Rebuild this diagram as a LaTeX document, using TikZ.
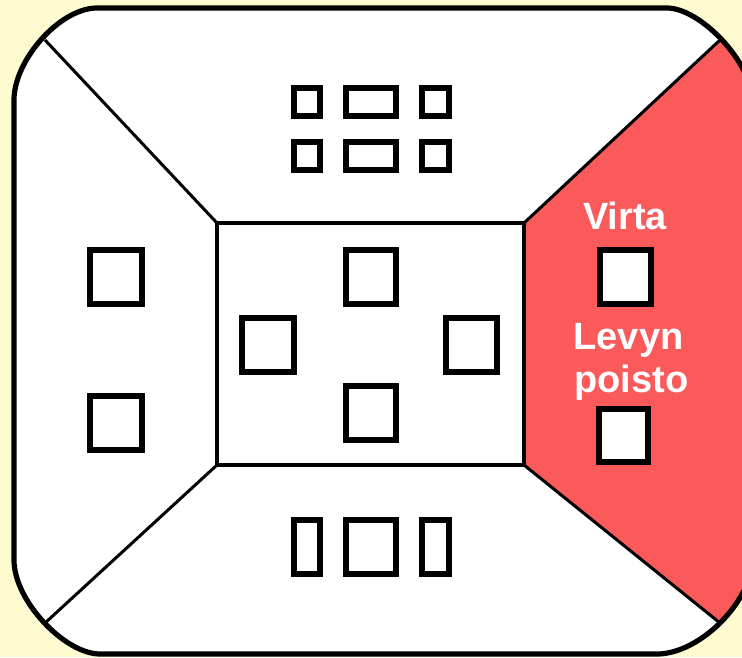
\documentclass[tikz,border=0pt]{standalone}
\usepackage{fontspec}
\setmainfont{Liberation Sans}
\definecolor{bgy}{RGB}{255,251,208}
\definecolor{redw}{RGB}{250,90,90}
\tikzset{
  x=1pt,y=-1pt,
  box/.style={draw=black,fill=white,line width=5.6pt,inner sep=0pt,outer sep=0pt,anchor=north west},
  midbox/.style={draw=black,fill=white,line width=3.6pt,inner sep=0pt,outer sep=0pt,anchor=north west},
  rule/.style={draw=black,line width=3pt},
  lab/.style={text=white,font=\fontsize{38}{38}\selectfont\bfseries,inner sep=0pt,anchor=base}
}
\newcommand{\outline}{(97,8) -- (667,8) .. controls (700,8) and (752,62) .. (752,100) -- (752,560)
  .. controls (752,601) and (700,654) .. (657,654) -- (100,654)
  .. controls (65,654) and (14,601) .. (14,560) -- (14,100)
  .. controls (14,60) and (60,8) .. (97,8) -- cycle}
\newcommand{\bx}[5]{\node[box,minimum width=#4pt-5.6pt,minimum height=#5pt-5.6pt] (#1) at (#2+2.8,#3+2.8) {};}
\begin{document}
\begin{tikzpicture}
\useasboundingbox (0,0) rectangle (742,657);
\fill[bgy] (0,0) rectangle (742,657);
\fill[white] \outline;
\begin{scope}
\clip \outline;
\fill[redw] (524,223) -- (720,40) -- (760,40) -- (760,623) -- (720,623) -- (524,465) -- cycle;
\end{scope}
\draw[black,line width=5.2pt] \outline;
\coordinate (tl) at (45,40);
\coordinate (tr) at (720,40);
\coordinate (bl) at (45,623);
\coordinate (br) at (720,623);
\node[midbox,minimum width=307pt,minimum height=242pt] (mid) at (217,223) {};
\draw[rule] (mid.north west) -- (tl);
\draw[rule] (mid.north east) -- (tr);
\draw[rule] (mid.south west) -- (bl);
\draw[rule] (mid.south east) -- (br);
\bx{ta}{291}{85}{32}{34}
\bx{tb}{343}{85}{56}{34}
\bx{tc}{419}{85}{33}{34}
\bx{tdd}{291}{139}{32}{34}
\bx{te}{343}{139}{56}{34}
\bx{tf}{419}{139}{33}{34}
\bx{la}{87}{247}{58}{60}
\bx{lb}{87}{393}{58}{60}
\bx{ca}{343}{247}{56}{60}
\bx{cb}{239}{315}{58}{60}
\bx{cc}{443}{315}{57}{60}
\bx{cd}{343}{383}{56}{60}
\bx{ra}{597}{247}{57}{60}
\bx{rb}{596}{406}{55}{59}
\bx{ba}{291}{517}{32}{60}
\bx{bb}{343}{517}{56}{60}
\bx{bc}{419}{517}{33}{60}
\node[lab] (virta) at (625,229) {Virta};
\node[lab] (levyn) at (628.5,349) {Levyn};
\node[lab] (poisto) at (631.5,392) {poisto};
\end{tikzpicture}
\end{document}
